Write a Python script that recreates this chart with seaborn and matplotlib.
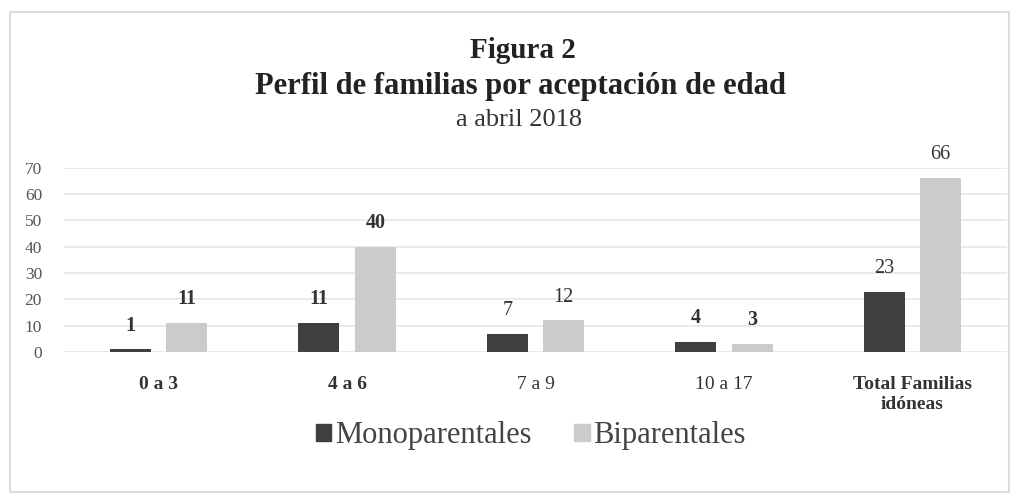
import matplotlib
matplotlib.use("Agg")
import matplotlib.pyplot as plt
import seaborn as sns
import pandas as pd
from matplotlib.patches import Rectangle

categories = ["0 a 3", "4 a 6", "7 a 9", "10 a 17", "Total Familias\nidóneas"]
monoparentales = [1, 11, 7, 4, 23]
biparentales = [11, 40, 12, 3, 66]
series_names = ["Monoparentales", "Biparentales"]
yticks = [0, 10, 20, 30, 40, 50, 60, 70]

sns.set_theme(style="white")
plt.rcParams['font.family'] = ['Liberation Serif', 'DejaVu Serif']

df = pd.DataFrame({
    "cat": categories * 2,
    "serie": [series_names[0]] * len(categories) + [series_names[1]] * len(categories),
    "val": monoparentales + biparentales,
})

fig = plt.figure(figsize=(10.21, 4.98), dpi=100)
ax = fig.add_axes([0.063, 0.293, 0.923, 0.37])

palette = {series_names[0]: "#3f3f3f", series_names[1]: "#cbcbcb"}
sns.barplot(data=df, x="cat", y="val", hue="serie", palette=palette, ax=ax,
            width=0.6, gap=0.27, legend=False, saturation=1,
            edgecolor="none", linewidth=0)

ax.set_ylim(0, 70)
ax.set_yticks(yticks)
ax.set_xlim(-0.5, len(categories) - 0.5)
ax.yaxis.grid(True, color="#e6e6e6", linewidth=1.2)
ax.set_axisbelow(True)
for s in ax.spines.values():
    s.set_visible(False)
ax.set_xlabel("")
ax.set_ylabel("")
ax.tick_params(axis="y", labelsize=12.5, colors="#555555", pad=16, length=0)
ax.tick_params(axis="x", labelsize=14, colors="#333333", pad=17, length=0)
bold_ticks = {0, 1, 4}
for i, lab in enumerate(ax.get_xticklabels()):
    lab.set_linespacing(1.25)
    if i in bold_ticks:
        lab.set_fontweight("bold")

bold_vals = [[True, True, False, True, False], [True, True, False, True, False]]
for ci, cont in enumerate(ax.containers):
    for bi, bar in enumerate(cont):
        h = bar.get_height()
        ax.annotate(f"{int(h)}", (bar.get_x() + bar.get_width() / 2, h),
                    xytext=(0, 10), textcoords="offset points",
                    ha="center", va="bottom", fontsize=14.5, color="#333333",
                    fontweight="bold" if bold_vals[ci][bi] else "normal",
                    annotation_clip=False)

fig.text(0.512, 0.899, "Figura 2", ha="center", va="center", fontsize=21,
         fontweight="bold", color="#222222")
fig.text(0.510, 0.826, "Perfil de familias por aceptación de edad", ha="center",
         va="center", fontsize=22, fontweight="bold", color="#222222")
fig.text(0.508, 0.760, "a abril 2018", ha="center", va="center", fontsize=19,
         color="#333333")

handles = [Rectangle((0, 0), 1, 1, color=palette[n]) for n in series_names]
fig.legend(handles, series_names, loc="center", bbox_to_anchor=(0.520, 0.125),
           ncol=2, frameon=False, fontsize=22, handlelength=0.5, handleheight=0.5,
           handletextpad=0.12, columnspacing=1.4, labelcolor="#444444")

fig.patches.append(Rectangle((0.010, 0.012), 0.978, 0.964, transform=fig.transFigure,
                             fill=False, edgecolor="#dcdcdc", linewidth=1.5))

fig.savefig("out.png", dpi=100)
